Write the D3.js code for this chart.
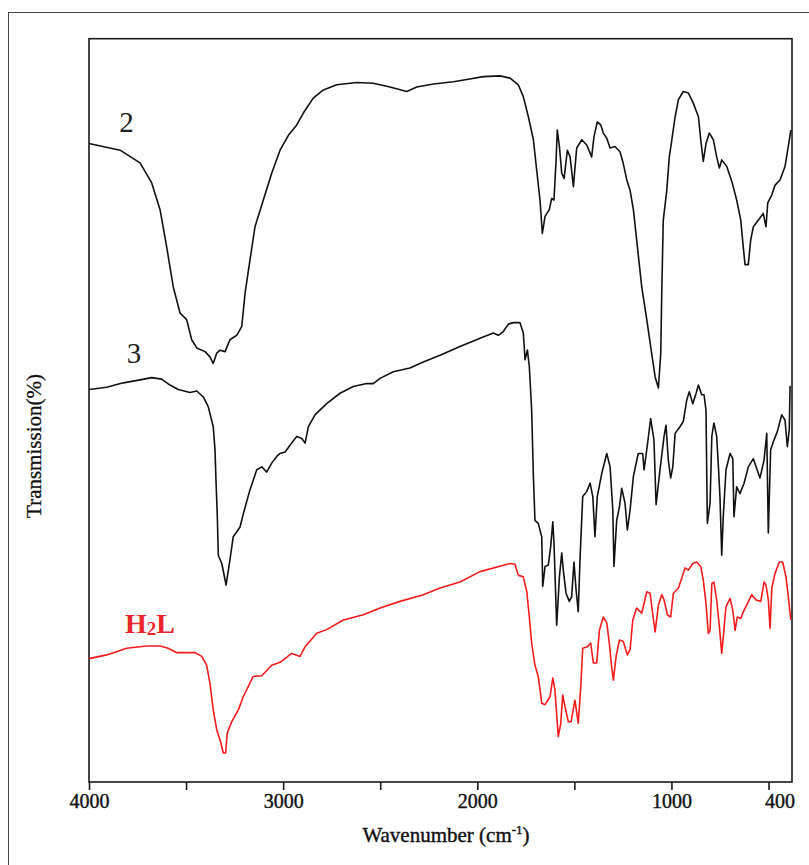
<!DOCTYPE html>
<html><head><meta charset="utf-8">
<script src="https://cdn.jsdelivr.net/npm/d3@7"></script>
<style>html,body{margin:0;padding:0;background:#fff;}svg{display:block;}</style>
</head><body>
<script>
// ---- data: [wavenumber (cm-1), transmission (arbitrary %, offset traces)] ----
const series2 = [[4000,85.9],[3840,85.0],[3737,83.3],[3677,80.6],[3634,77.0],[3600,72.0],[3566,66.6],[3531,63.1],[3497,62.2],[3471,59.5],[3445,58.4],[3402,57.9],[3377,57.2],[3360,56.3],[3342,57.7],[3325,58.1],[3299,57.9],[3274,59.5],[3239,60.1],[3213,61.3],[3196,65.8],[3171,70.2],[3145,74.7],[3102,78.3],[3059,81.9],[3016,85.0],[2973,87.0],[2930,88.4],[2896,90.0],[2845,92.0],[2793,93.1],[2724,93.8],[2621,94.1],[2536,94.0],[2450,93.5],[2363,92.9],[2312,93.5],[2226,93.9],[2123,94.2],[2054,94.5],[1969,94.9],[1883,95.0],[1831,94.7],[1789,93.8],[1763,92.2],[1737,89.5],[1711,86.4],[1694,82.3],[1677,78.3],[1665,73.8],[1651,76.1],[1629,77.0],[1617,78.5],[1605,78.3],[1594,83.7],[1588,87.7],[1577,85.5],[1565,81.9],[1553,81.2],[1536,85.0],[1522,84.1],[1505,80.1],[1488,85.3],[1462,86.4],[1436,85.7],[1411,84.1],[1399,86.8],[1382,88.8],[1364,88.4],[1351,87.3],[1333,86.6],[1316,85.3],[1291,85.5],[1265,84.8],[1248,83.2],[1230,81.0],[1213,79.6],[1196,77.0],[1179,72.9],[1153,66.6],[1127,62.2],[1102,57.7],[1084,54.5],[1067,53.0],[1055,57.7],[1050,65.7],[1042,75.6],[1024,79.6],[1011,84.1],[998,86.4],[981,89.5],[964,91.8],[939,92.9],[913,92.7],[887,91.3],[861,89.5],[849,86.4],[836,83.5],[822,85.9],[805,87.3],[784,86.4],[767,84.1],[753,82.6],[741,83.7],[715,82.8],[689,80.8],[664,78.3],[643,75.6],[630,72.0],[621,69.6],[604,69.6],[592,72.9],[578,74.7],[552,75.6],[527,76.5],[513,74.7],[504,77.9],[483,79.0],[466,80.3],[441,81.0],[415,82.8],[398,85.5],[385,87.7]];

const series3 = [[4000,52.8],[3909,53.1],[3823,53.7],[3737,54.1],[3677,54.4],[3626,54.2],[3583,53.4],[3540,52.8],[3480,52.4],[3445,52.6],[3411,51.8],[3386,50.5],[3360,47.8],[3351,44.7],[3346,40.6],[3339,35.7],[3334,30.5],[3316,29.4],[3294,26.5],[3274,29.9],[3257,33.0],[3222,34.3],[3205,36.1],[3171,39.3],[3136,42.0],[3110,42.4],[3085,41.7],[3059,42.9],[3033,43.8],[3016,44.2],[2990,44.4],[2956,45.6],[2930,46.5],[2904,46.2],[2887,45.6],[2870,47.8],[2836,49.4],[2776,50.9],[2707,52.3],[2639,53.2],[2570,53.6],[2536,53.6],[2501,54.3],[2433,55.2],[2347,55.7],[2278,56.5],[2192,57.4],[2089,58.6],[1986,59.7],[1917,60.4],[1892,60.1],[1866,60.6],[1840,61.6],[1814,61.8],[1780,61.8],[1763,60.4],[1754,56.8],[1742,58.1],[1732,55.9],[1720,50.0],[1711,41.1],[1703,35.2],[1686,34.8],[1668,33.0],[1663,26.3],[1651,29.0],[1634,29.2],[1622,31.7],[1611,35.0],[1605,32.1],[1591,21.1],[1577,27.6],[1565,30.8],[1557,28.5],[1543,25.4],[1526,24.3],[1514,24.9],[1502,29.6],[1491,25.8],[1480,22.9],[1471,29.9],[1457,38.4],[1436,39.1],[1419,40.2],[1405,38.4],[1394,33.0],[1382,38.4],[1359,41.5],[1333,44.2],[1316,42.4],[1302,36.6],[1296,29.0],[1282,35.2],[1268,37.0],[1256,39.5],[1239,37.5],[1227,33.9],[1213,36.6],[1196,41.1],[1171,44.2],[1148,44.2],[1141,42.0],[1127,44.7],[1107,48.9],[1090,46.0],[1079,37.3],[1059,42.0],[1038,46.5],[1028,48.0],[1016,43.3],[1004,40.9],[993,42.4],[981,46.9],[956,47.8],[939,48.5],[921,51.4],[908,52.5],[890,50.9],[873,52.3],[861,53.4],[844,52.1],[832,52.1],[822,50.0],[815,34.8],[801,37.5],[792,46.5],[781,48.3],[767,46.5],[758,42.4],[750,38.4],[741,30.5],[733,35.7],[719,42.0],[698,44.2],[684,43.5],[678,35.7],[664,39.7],[647,38.8],[626,40.2],[604,42.4],[578,43.5],[564,42.4],[544,40.9],[523,43.3],[509,46.9],[501,33.5],[489,44.7],[472,46.0],[455,47.1],[432,49.4],[415,48.7],[403,45.1],[393,47.4],[389,53.2],[385,53.2]];

const seriesH2L = [[4000,16.6],[3909,17.1],[3806,18.0],[3703,18.3],[3634,18.3],[3592,18.0],[3548,17.4],[3454,17.4],[3419,16.9],[3394,15.7],[3377,13.3],[3360,9.7],[3342,7.0],[3322,5.4],[3308,3.9],[3296,3.9],[3288,6.6],[3265,8.1],[3231,9.7],[3205,11.5],[3154,14.2],[3110,14.3],[3059,15.7],[3016,16.1],[2956,17.3],[2913,16.9],[2887,18.2],[2827,20.0],[2776,20.5],[2690,21.8],[2587,22.5],[2501,23.4],[2398,24.3],[2278,25.2],[2192,26.1],[2089,26.9],[1986,28.3],[1831,29.4],[1806,29.3],[1789,27.8],[1763,27.6],[1745,25.6],[1732,22.2],[1720,18.7],[1703,15.7],[1686,14.2],[1668,10.6],[1651,10.4],[1625,11.5],[1611,14.0],[1600,12.4],[1583,6.1],[1570,7.9],[1560,11.7],[1548,10.1],[1531,8.1],[1517,8.1],[1497,11.0],[1480,7.9],[1467,12.8],[1457,18.0],[1433,18.2],[1416,18.7],[1402,16.0],[1385,16.0],[1371,20.4],[1351,22.2],[1333,21.4],[1320,18.7],[1308,15.5],[1299,13.7],[1285,16.9],[1268,19.1],[1248,18.9],[1227,17.1],[1213,17.8],[1199,21.8],[1179,23.4],[1153,22.7],[1127,25.6],[1110,25.4],[1096,22.5],[1084,20.2],[1067,23.8],[1050,25.2],[1038,24.5],[1021,22.5],[1004,22.2],[990,25.4],[964,26.1],[947,27.4],[930,28.8],[913,28.5],[890,29.4],[870,29.6],[849,29.0],[836,27.2],[822,24.0],[810,20.0],[801,20.4],[792,26.7],[781,26.9],[767,24.5],[753,20.9],[741,17.3],[733,19.5],[719,23.6],[698,24.7],[684,23.1],[672,20.4],[661,22.2],[643,22.0],[630,22.9],[609,24.0],[586,25.2],[564,24.5],[540,24.3],[523,26.9],[513,26.5],[501,24.5],[492,20.7],[483,26.1],[466,28.1],[444,29.6],[427,29.6],[410,27.6],[398,24.9],[385,21.8]];

const majorTicks = [4000, 3000, 2000, 1000];
const allTicks = [4000, 3500, 3000, 2500, 2000, 1500, 1000, 500];
const endLabel = "400";
const xTitle = "Wavenumber (cm";
const xTitleSup = "-1";
const yTitle = "Transmission(%)";
const traceLabels = [
  {text: "2", w: 3807, t: 87.4},
  {text: "3", w: 3768, t: 56.4}
];
const ligandLabel = {w: 3686, t: 20.0};

// ---- layout ----
const W = 809, H = 865;
const L = 89, R = 792, T = 38.7, B = 782;
const serif = "'Liberation Serif', 'Times New Roman', serif";

const svg = d3.select("body").append("svg").attr("width", W).attr("height", H);

// outer frame
svg.append("rect").attr("x", 8.5).attr("y", 12.5).attr("width", 900).attr("height", 900)
  .attr("fill", "none").attr("stroke", "#444").attr("stroke-width", 1);

const x = d3.scaleLinear().domain([4000, 379]).range([L, R]);
const y = d3.scaleLinear().domain([0, 100]).range([B, T]);

// plot frame
svg.append("rect").attr("x", L).attr("y", T).attr("width", R - L).attr("height", B - T)
  .attr("fill", "none").attr("stroke", "#1a1a1a").attr("stroke-width", 1.6);

// x axis ticks
const xAxis = d3.axisBottom(x).tickValues(allTicks).tickSize(8)
  .tickFormat(d => majorTicks.includes(d) ? String(d) : "");
const gx = svg.append("g").attr("transform", `translate(0,${B})`).call(xAxis);
gx.select(".domain").remove();
gx.selectAll(".tick line").attr("stroke", "#1a1a1a").attr("stroke-width", 1.6);
gx.selectAll(".tick text").attr("font-family", serif)
  .attr("font-size", 20).attr("fill", "#111").attr("stroke", "#111").attr("stroke-width", 0.4)
  .attr("dy", "0.5em").attr("y", 16);
gx.append("text").attr("x", R + 3).attr("y", 16).attr("dy", "0.5em")
  .attr("text-anchor", "end").attr("font-family", serif)
  .attr("font-size", 20).attr("fill", "#111").attr("stroke", "#111").attr("stroke-width", 0.4).text(endLabel);

// titles
const xt = svg.append("text").attr("x", 446).attr("y", 842).attr("text-anchor", "middle")
  .attr("font-family", serif).attr("font-size", 21).attr("fill", "#111")
  .attr("stroke", "#111").attr("stroke-width", 0.4);
xt.append("tspan").text(xTitle);
xt.append("tspan").attr("font-size", 13).attr("dy", -8).text(xTitleSup);
xt.append("tspan").attr("dy", 8).text(")");

svg.append("text").attr("transform", "translate(41,446) rotate(-90)").attr("text-anchor", "middle")
  .attr("font-family", serif).attr("font-size", 21).attr("fill", "#111")
  .attr("stroke", "#111").attr("stroke-width", 0.3)
  .text(yTitle);

// traces
const line = d3.line().x(d => x(d[0])).y(d => y(d[1]));
svg.append("path").datum(series2).attr("d", line).attr("fill", "none").attr("stroke", "#111").attr("stroke-width", 1.6).attr("stroke-linejoin", "round");
svg.append("path").datum(series3).attr("d", line).attr("fill", "none").attr("stroke", "#111").attr("stroke-width", 1.6).attr("stroke-linejoin", "round");
svg.append("path").datum(seriesH2L).attr("d", line).attr("fill", "none").attr("stroke", "#f21c1c").attr("stroke-width", 1.6).attr("stroke-linejoin", "round");

// trace labels
traceLabels.forEach(lb => {
  svg.append("text").attr("x", x(lb.w)).attr("y", y(lb.t)).attr("text-anchor", "middle")
    .attr("font-family", serif).attr("font-size", 29)
    .attr("fill", "#222").text(lb.text);
});
const h2l = svg.append("text").attr("x", x(ligandLabel.w)).attr("y", y(ligandLabel.t)).attr("text-anchor", "middle")
  .attr("font-family", serif).attr("font-size", 28)
  .attr("font-weight", "bold").attr("fill", "#e8262b");
h2l.append("tspan").text("H");
h2l.append("tspan").attr("font-size", 19).attr("dy", 2).text("2");
h2l.append("tspan").attr("dy", -2).text("L");
</script>
</body></html>
